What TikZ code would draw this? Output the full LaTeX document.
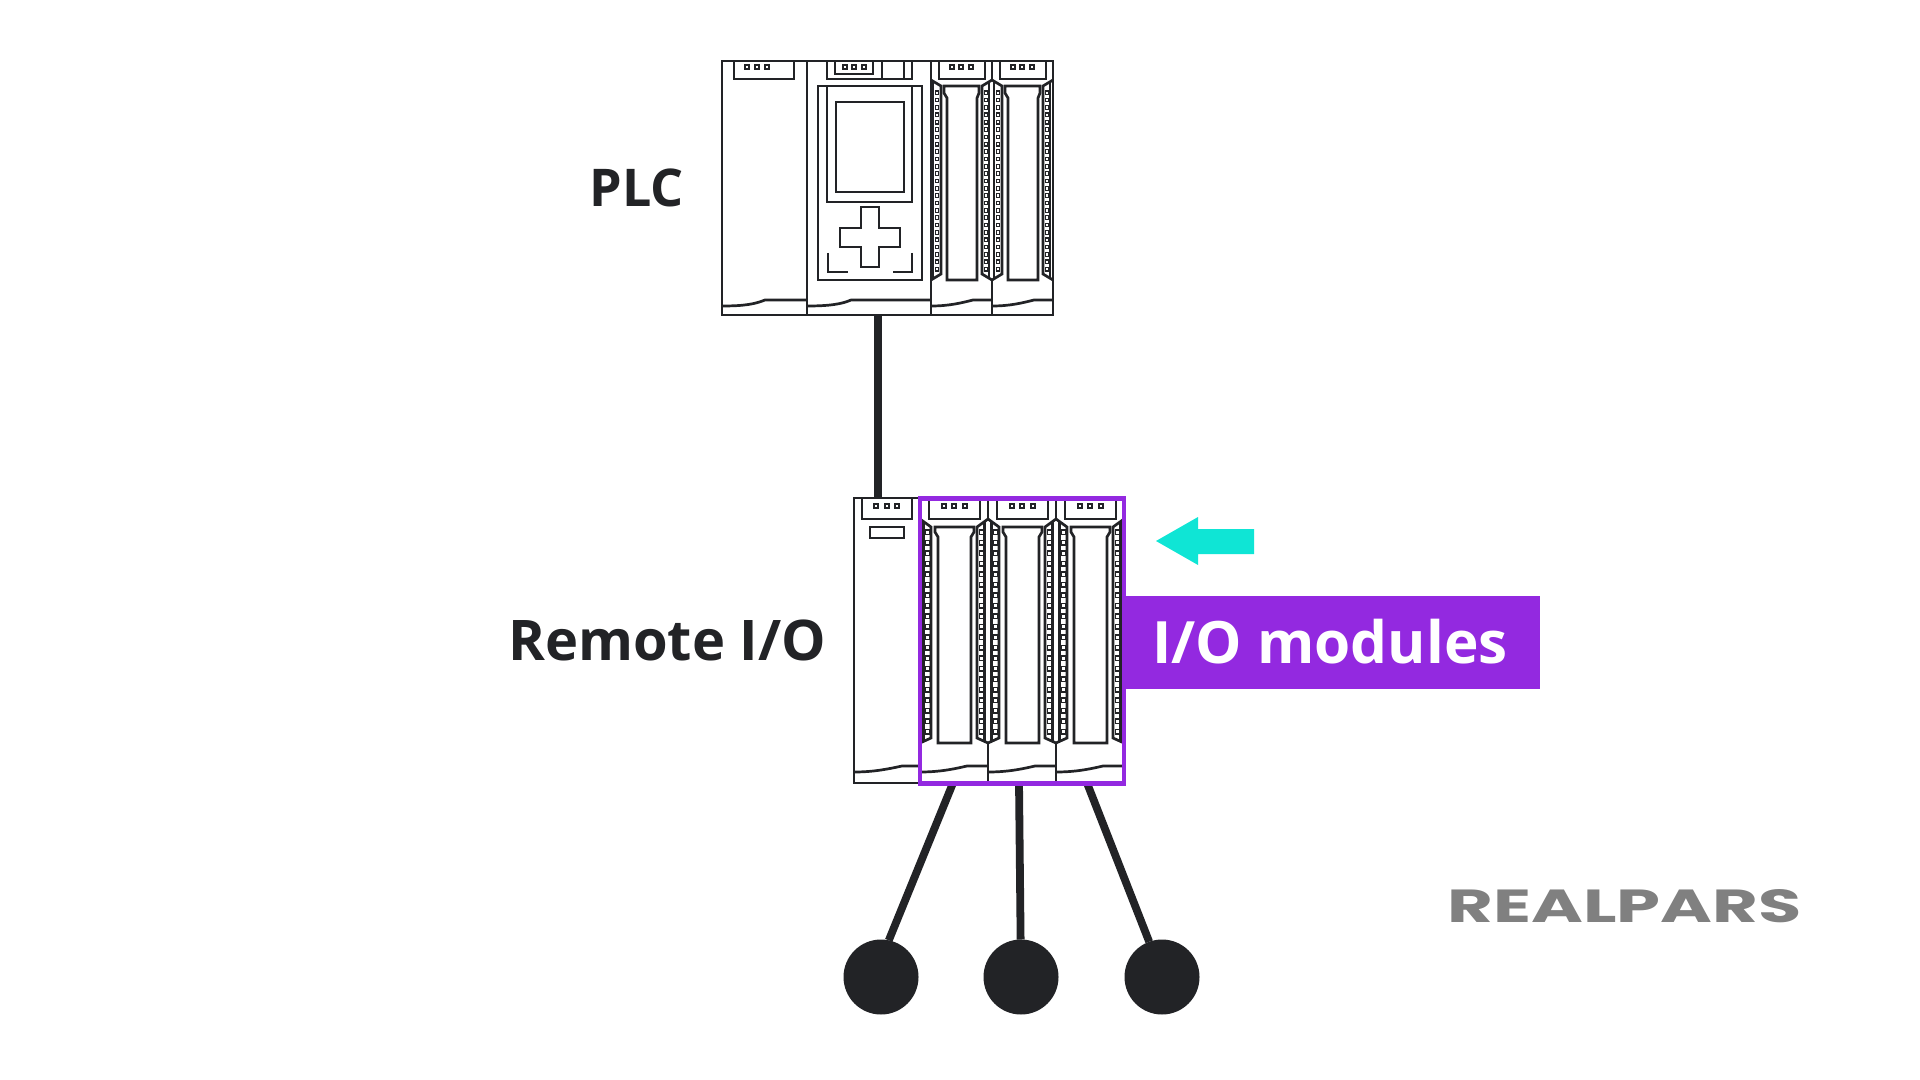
\documentclass[tikz,border=0pt]{standalone}
\usepackage{fontspec}
\setmainfont{Open Sans}
\usepackage{graphicx}
\definecolor{ink}{HTML}{222326}
\definecolor{violetbar}{HTML}{9329E0}
\definecolor{tealarrow}{HTML}{0FE5D5}
\definecolor{logogray}{HTML}{808080}
\tikzset{
  ln/.style={draw=ink,line width=1.35pt,line join=miter},
  thinln/.style={draw=ink,line width=1.1pt},
  sq/.style={draw=ink,line width=0.55pt},
  link/.style={draw=ink,line width=3.9pt},
  sensor/.style={circle,fill=ink,inner sep=0pt,outer sep=0pt,minimum size=37.5pt},
  lab/.style={text=ink,font=\fontsize{28}{30}\selectfont\bfseries,inner sep=0pt},
}
\newcommand{\threedots}[4]{% x1 x2 x3 y
  \foreach \dx in {#1,#2,#3}{
    \fill[ink] (\dx-3.4,#4-3.4) rectangle (\dx+3.4,#4+3.4);
    \fill[white] (\dx-1.1,#4-1.1) rectangle (\dx+1.1,#4+1.1);
  }}
\newcommand{\plcmod}[1]{%
\begin{scope}[shift={(#1,0)}]
  \draw[ln] (8,61) -- (8,79) -- (54,79) -- (54,61);
  \threedots{21}{30}{40}{67}
  \draw[ln] (13,86) -- (48,86) -- (48,93) -- (46,98) -- (46,280) -- (16,280) -- (16,98) -- (13,93) -- cycle;
  \draw[ln] (0,80) -- (10,86) -- (10,274) -- (0,280);
  \draw[ln] (61,80) -- (51,86) -- (51,274) -- (61,280);
  \draw[thinln] (2.3,82) -- (2.3,278.5) (58.3,82) -- (58.3,278.5);
  \foreach \n in {0,...,24}{
    \draw[sq] (4.2,{91+\n*7.35}) rectangle (7.8,{94.6+\n*7.35});
    \draw[sq] (53.2,{91+\n*7.35}) rectangle (56.8,{94.6+\n*7.35});
  }
  \draw[ln] (61,61) -- (61,80) (61,280) -- (61,315);
  \draw[ln] (0,306) .. controls (18,306) and (30,303) .. (42,300) -- (61,300);
\end{scope}}
\newcommand{\riomod}[1]{%
\begin{scope}[shift={(#1,0)}]
  \draw[ln] (9,498) -- (9,519) -- (60,519) -- (60,498);
  \threedots{24}{34}{45}{506}
  \draw[ln] (15,527) -- (54,527) -- (54,532) -- (51,537) -- (51,743) -- (18,743) -- (18,537) -- (15,532) -- cycle;
  \draw[ln] (0,519) -- (11,527) -- (11,738) -- (0,743);
  \draw[ln] (68,519) -- (57,527) -- (57,738) -- (68,743);
  \draw[thinln] (3.5,522) -- (3.5,741) (64.5,522) -- (64.5,741);
  \foreach \n in {0,...,19}{
    \draw[sq] (5.2,{530+\n*10.5}) rectangle (9.2,{534.5+\n*10.5});
    \draw[sq] (59.6,{530+\n*10.5}) rectangle (63.6,{534.5+\n*10.5});
  }
  \draw[ln] (68,498) -- (68,519) (68,743) -- (68,783);
  \draw[ln] (0,772) .. controls (20,772) and (34,769) .. (47,766) -- (68,766);
\end{scope}}
\begin{document}
\begin{tikzpicture}[x=0.5pt,y=-0.5pt]
\useasboundingbox (0,0) rectangle (1920,1080);
\fill[white] (0,0) rectangle (1920,1080);
% PLC
\draw[ln] (722,61) rectangle (1053,315);
\draw[ln] (807,61) -- (807,315) (931,61) -- (931,315);
\draw[ln] (734,61) -- (734,79) -- (794,79) -- (794,61);
\threedots{747}{757}{767}{67}
\draw[ln] (722,306) .. controls (745,306) and (755,304) .. (765,300) -- (807,300);
\draw[ln] (807,306) .. controls (830,306) and (842,304) .. (851,300) -- (931,300);
% CPU
\draw[ln] (827,61) -- (827,79) -- (912,79) -- (912,61);
\draw[ln] (835,61) -- (835,74) -- (873,74) -- (873,61);
\draw[ln] (882,61) -- (882,79) (904,61) -- (904,79);
\threedots{845}{854}{864}{67}
\draw[ln] (818,86) rectangle (922,280);
\draw[ln] (827,86) -- (827,202) -- (912,202) -- (912,86);
\draw[ln] (836,102) rectangle (904,192);
\draw[ln] (861,207) -- (879,207) -- (879,228) -- (900,228) -- (900,247) -- (879,247) -- (879,267) -- (861,267) -- (861,247) -- (840,247) -- (840,228) -- (861,228) -- cycle;
\draw[ln] (828,253) -- (828,272) -- (848,272);
\draw[ln] (912,253) -- (912,272) -- (893,272);
\plcmod{931}
\plcmod{992}
\node[lab,font=\fontsize{26}{28}\selectfont\bfseries,anchor=center] (plclabel) at (637,188) {PLC};
% Remote I/O
\draw[ln] (920,498) -- (854,498) -- (854,783) -- (920,783);
\draw[ln] (862,498) -- (862,519) -- (912,519) -- (912,498);
\threedots{876}{887}{897}{506}
\draw[ln] (870,527) rectangle (904,538);
\draw[ln] (854,772) .. controls (874,772) and (888,769) .. (902,766) -- (920,766);
\riomod{920}
\riomod{988}
\riomod{1056}
\node[lab,anchor=center] (riolabel) at (667,640) {Remote I/O};
% connectors
\coordinate (plcout) at (878,315);
\coordinate (rioin) at (878,498);
\coordinate (out1) at (953,783);
\coordinate (out2) at (1019,783);
\coordinate (out3) at (1087,783);
\node[sensor] (s1) at (881,977) {};
\node[sensor] (s2) at (1021,977) {};
\node[sensor] (s3) at (1162,977) {};
\draw[link] (plcout) -- (rioin);
\draw[link] (out1) -- (s1.78);
\draw[link] (out2) -- (s2);
\draw[link] (out3) -- (s3.110);
% selection frame
\node[draw=violetbar,line width=2.1pt,outer sep=0pt,minimum width=102pt,minimum height=142.5pt,inner sep=0pt,anchor=center] (frame) at (1022,641) {};
\node[fill=violetbar,outer sep=0pt,minimum width=208pt,minimum height=46.5pt,inner sep=0pt,anchor=north west] (tag) at (1124,596) {};
\node[text=white,font=\fontsize{29.2}{32}\selectfont\bfseries,inner sep=0pt] (taglabel) at (1330,642) {I/O modules};
% arrow
\fill[tealarrow] (1156,541) -- (1198,517) -- (1198,529) -- (1254,529) -- (1254,554) -- (1198,554) -- (1198,565) -- cycle;
% logo
\node[text=logogray,inner sep=0pt,anchor=center,font=\fontspec{Poppins}\bfseries] (logo) at (1624.5,906.5) {\resizebox{177pt}{16.5pt}{REALPARS}};
\end{tikzpicture}
\end{document}
